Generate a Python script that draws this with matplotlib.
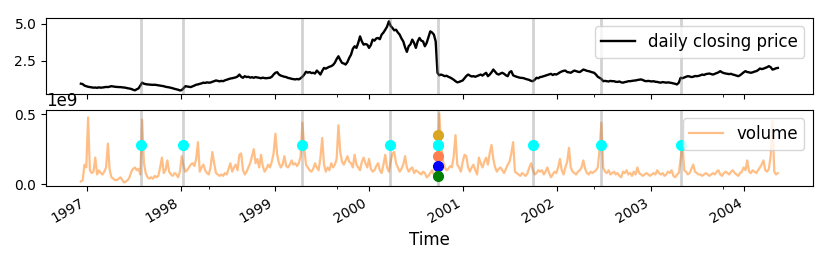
import numpy as np
import pandas as pd
import matplotlib
matplotlib.use('Agg')
import matplotlib.pyplot as plt
import matplotlib.dates as mdates

# weekly closing price
price = [
    0.93, 0.90, 0.80, 0.76, 0.72, 0.70, 0.68, 0.66, 0.67, 0.65,
    0.68, 0.66, 0.67, 0.69, 0.71, 0.70, 0.73, 0.76, 0.74, 0.72,
    0.71, 0.70, 0.70, 0.68, 0.67, 0.65, 0.62, 0.60, 0.57, 0.52,
    0.48, 0.55, 0.61, 0.80, 1.00, 0.93, 0.90, 0.88, 0.87, 0.86,
    0.85, 0.86, 0.84, 0.82, 0.80, 0.78, 0.76, 0.72, 0.70, 0.68,
    0.65, 0.62, 0.58, 0.55, 0.52, 0.47, 0.50, 0.62, 0.76, 0.74,
    0.72, 0.70, 0.75, 0.80, 0.86, 0.88, 0.92, 0.95, 1.00, 0.98,
    1.02, 1.00, 1.01, 1.06, 1.10, 1.15, 1.12, 1.09, 1.12, 1.10,
    1.16, 1.20, 1.24, 1.28, 1.30, 1.33, 1.36, 1.42, 1.55, 1.40,
    1.33, 1.44, 1.38, 1.40, 1.34, 1.37, 1.33, 1.38, 1.35, 1.33,
    1.30, 1.34, 1.31, 1.30, 1.32, 1.33, 1.40, 1.55, 1.67, 1.71,
    1.55, 1.48, 1.44, 1.40, 1.38, 1.32, 1.30, 1.26, 1.24, 1.22,
    1.25, 1.22, 1.30, 1.40, 1.55, 1.74, 1.68, 1.72, 1.65, 1.67,
    1.62, 1.82, 1.70, 1.55, 1.80, 2.00, 1.95, 2.02, 2.08, 2.12,
    2.20, 2.35, 2.60, 2.79, 2.55, 2.34, 2.30, 2.23, 2.40, 2.68,
    2.90, 3.30, 3.47, 3.36, 3.70, 4.14, 3.80, 3.58, 3.62, 3.58,
    3.36, 3.55, 3.92, 3.85, 4.00, 4.03, 3.95, 4.26, 4.40, 4.59,
    4.80, 5.16, 4.85, 4.71, 4.55, 4.59, 4.40, 4.26, 4.00, 3.80,
    3.40, 3.09, 3.47, 3.60, 3.92, 3.70, 3.36, 3.80, 4.03, 3.85,
    3.80, 3.47, 3.70, 4.10, 4.48, 4.40, 4.26, 3.80, 1.67, 1.50,
    1.55, 1.50, 1.44, 1.47, 1.40, 1.35, 1.28, 1.20, 1.10, 1.02,
    1.05, 1.10, 1.15, 1.30, 1.45, 1.55, 1.48, 1.42, 1.44, 1.40,
    1.45, 1.50, 1.55, 1.48, 1.58, 1.67, 1.44, 1.55, 1.70, 1.89,
    1.75, 1.60, 1.55, 1.62, 1.67, 1.60, 1.50, 1.44, 1.70, 1.78,
    1.50, 1.44, 1.40, 1.36, 1.33, 1.32, 1.30, 1.25, 1.22, 1.18,
    1.12, 1.10, 1.20, 1.33, 1.30, 1.38, 1.40, 1.44, 1.48, 1.52,
    1.56, 1.60, 1.52, 1.58, 1.55, 1.62, 1.70, 1.76, 1.80, 1.82,
    1.72, 1.70, 1.67, 1.75, 1.82, 1.78, 1.74, 1.72, 1.80, 1.89,
    1.85, 1.80, 1.78, 1.74, 1.70, 1.67, 1.55, 1.40, 1.33, 1.25,
    1.10, 1.12, 1.10, 1.08, 1.12, 1.10, 1.10, 1.06, 1.05, 1.08,
    1.02, 1.00, 1.04, 1.06, 1.10, 1.10, 1.12, 1.14, 1.15, 1.18,
    1.20, 1.22, 1.18, 1.12, 1.10, 1.12, 1.10, 1.08, 1.10, 1.06,
    1.05, 1.02, 1.00, 1.04, 1.02, 1.00, 1.02, 1.00, 0.98, 0.95,
    0.92, 0.88, 1.00, 1.33, 1.30, 1.35, 1.40, 1.44, 1.42, 1.38,
    1.40, 1.45, 1.44, 1.46, 1.50, 1.55, 1.52, 1.58, 1.60, 1.62,
    1.58, 1.55, 1.60, 1.65, 1.70, 1.78, 1.70, 1.65, 1.62, 1.60,
    1.58, 1.60, 1.55, 1.52, 1.48, 1.44, 1.50, 1.60, 1.70, 1.78,
    1.72, 1.70, 1.67, 1.70, 1.75, 1.78, 1.85, 1.96, 1.92, 1.95,
    2.00, 2.05, 2.12, 2.05, 1.89, 1.92, 1.98, 2.00,
]

# weekly volume, in billions
volume_bn = [
    0.02, 0.03, 0.14, 0.12, 0.476, 0.10, 0.08, 0.09, 0.19, 0.07,
    0.10, 0.08, 0.07, 0.09, 0.12, 0.29, 0.10, 0.05, 0.04, 0.03,
    0.03, 0.04, 0.05, 0.03, 0.013, 0.02, 0.03, 0.05, 0.09, 0.11,
    0.12, 0.10, 0.11, 0.07, 0.46, 0.15, 0.08, 0.05, 0.04, 0.05,
    0.04, 0.06, 0.05, 0.06, 0.12, 0.19, 0.08, 0.10, 0.17, 0.09,
    0.07, 0.06, 0.08, 0.07, 0.05, 0.09, 0.20, 0.13, 0.09, 0.10,
    0.12, 0.14, 0.15, 0.13, 0.18, 0.30, 0.09, 0.12, 0.14, 0.10,
    0.08, 0.07, 0.12, 0.23, 0.15, 0.08, 0.07, 0.06, 0.07, 0.06,
    0.08, 0.07, 0.11, 0.15, 0.09, 0.12, 0.14, 0.10, 0.21, 0.22,
    0.10, 0.07, 0.09, 0.12, 0.15, 0.20, 0.25, 0.15, 0.18, 0.12,
    0.21, 0.13, 0.09, 0.11, 0.14, 0.12, 0.16, 0.22, 0.36, 0.21,
    0.15, 0.12, 0.14, 0.20, 0.13, 0.12, 0.14, 0.17, 0.14, 0.15,
    0.13, 0.15, 0.20, 0.44, 0.26, 0.14, 0.12, 0.10, 0.09, 0.11,
    0.15, 0.12, 0.10, 0.19, 0.33, 0.14, 0.09, 0.12, 0.10, 0.15,
    0.12, 0.14, 0.18, 0.42, 0.23, 0.16, 0.14, 0.17, 0.20, 0.16,
    0.15, 0.12, 0.21, 0.14, 0.12, 0.10, 0.16, 0.19, 0.15, 0.12,
    0.18, 0.11, 0.09, 0.10, 0.13, 0.15, 0.10, 0.08, 0.14, 0.21,
    0.12, 0.09, 0.16, 0.22, 0.23, 0.15, 0.12, 0.09, 0.11, 0.14,
    0.20, 0.12, 0.09, 0.11, 0.12, 0.08, 0.10, 0.09, 0.08, 0.07,
    0.09, 0.08, 0.05, 0.06, 0.08, 0.10, 0.07, 0.05, 0.12, 0.505,
    0.28, 0.17, 0.12, 0.10, 0.11, 0.13, 0.12, 0.20, 0.35, 0.14,
    0.12, 0.09, 0.16, 0.21, 0.20, 0.12, 0.09, 0.12, 0.14, 0.10,
    0.07, 0.19, 0.15, 0.12, 0.16, 0.19, 0.14, 0.22, 0.28, 0.18,
    0.12, 0.09, 0.11, 0.12, 0.10, 0.08, 0.11, 0.14, 0.16, 0.22,
    0.30, 0.09, 0.08, 0.07, 0.06, 0.08, 0.07, 0.06, 0.08, 0.12,
    0.15, 0.10, 0.07, 0.08, 0.10, 0.09, 0.10, 0.07, 0.09, 0.12,
    0.08, 0.05, 0.07, 0.09, 0.08, 0.12, 0.18, 0.10, 0.07, 0.12,
    0.16, 0.26, 0.12, 0.09, 0.08, 0.07, 0.09, 0.10, 0.12, 0.17,
    0.11, 0.08, 0.07, 0.09, 0.08, 0.09, 0.10, 0.12, 0.25, 0.44,
    0.12, 0.09, 0.08, 0.10, 0.07, 0.08, 0.09, 0.07, 0.08, 0.06,
    0.05, 0.09, 0.08, 0.10, 0.07, 0.08, 0.06, 0.09, 0.07, 0.12,
    0.08, 0.07, 0.06, 0.07, 0.08, 0.07, 0.06, 0.07, 0.08, 0.07,
    0.10, 0.08, 0.07, 0.08, 0.06, 0.07, 0.09, 0.08, 0.10, 0.06,
    0.05, 0.07, 0.08, 0.18, 0.30, 0.10, 0.09, 0.07, 0.08, 0.11,
    0.14, 0.09, 0.08, 0.07, 0.07, 0.06, 0.07, 0.08, 0.07, 0.06,
    0.07, 0.08, 0.07, 0.09, 0.10, 0.07, 0.06, 0.08, 0.09, 0.08,
    0.07, 0.09, 0.10, 0.08, 0.07, 0.06, 0.08, 0.09, 0.12, 0.10,
    0.17, 0.09, 0.08, 0.10, 0.09, 0.08, 0.10, 0.12, 0.14, 0.17,
    0.10, 0.09, 0.11, 0.20, 0.45, 0.09, 0.07, 0.08,
]

# change points and markers
event_dates = ['1997-07-29', '1998-01-08', '1999-04-19', '2000-03-24',
               '2000-09-26', '2001-10-01', '2002-06-22', '2003-04-29']
marker_level = 0.28e9
stack_date = '2000-09-26'
stack_levels = [0.35e9, 0.28e9, 0.205e9, 0.13e9, 0.06e9]
stack_colors = ['goldenrod', 'cyan', 'coral', 'blue', 'green']
minor_dates = ['1998-04-20', '1999-09-02', '2002-05-26', '2003-10-08']

dates = pd.date_range('1996-12-09', periods=len(price), freq='7D')
volume = np.array(volume_bn) * 1e9
events = pd.to_datetime(event_dates)

fig, (ax1, ax2) = plt.subplots(2, 1, sharex=True, figsize=(8.31, 2.63), dpi=100)

ax1.plot(dates, price, color='black', lw=1.7, label='daily closing price')
ax2.plot(dates, volume, color='tab:orange', alpha=0.5, lw=1.6, label='volume')

for d in events:
    ax1.axvline(d, color='gray', alpha=0.35, lw=2)
    ax2.axvline(d, color='gray', alpha=0.35, lw=2)
    ax2.plot(d, marker_level, 'o', color='cyan', ms=7, zorder=3)

sd = pd.to_datetime(stack_date)
for lvl, c in zip(stack_levels, stack_colors):
    ax2.plot(sd, lvl, 'o', color=c, ms=7, zorder=4)

ax1.set_yticks([2.5, 5.0])
ax2.set_yticks([0, 0.5e9])
ax2.ticklabel_format(axis='y', style='sci', scilimits=(9, 9))
ax2.yaxis.get_offset_text().set_fontsize(12)

ax2.xaxis.set_major_locator(mdates.YearLocator())
ax2.xaxis.set_major_formatter(mdates.DateFormatter('%Y'))
ax2.xaxis.set_minor_locator(matplotlib.ticker.FixedLocator(mdates.date2num(pd.to_datetime(minor_dates))))

ax1.legend(loc='upper right', fontsize=12)
ax2.legend(loc='upper right', fontsize=12)
ax2.set_xlabel('Time', fontsize=12)

fig.autofmt_xdate()
fig.subplots_adjust(left=0.0554, right=0.978, top=0.932, bottom=0.293, hspace=0.21)
fig.savefig('out.png', dpi=100)
